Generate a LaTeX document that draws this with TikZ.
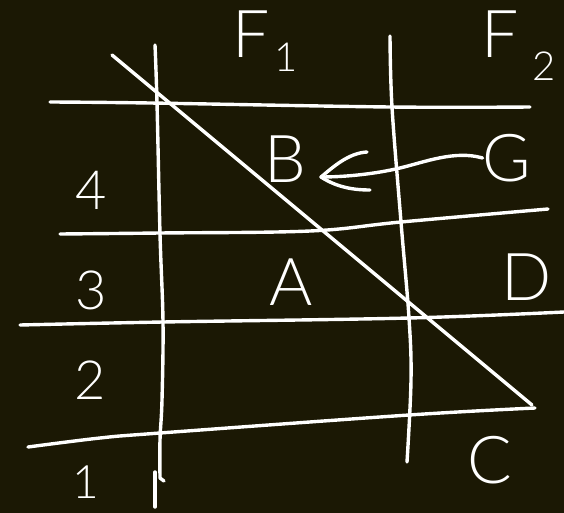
\documentclass[tikz,border=0pt]{standalone}
\usepackage{fontspec}
\setmainfont{Lato}[UprightFont=* Light]
\definecolor{bg}{RGB}{27,24,4}
\begin{document}
\begin{tikzpicture}[x=1pt,y=-1pt,
  stroke/.style={white, line width=3.4pt, line cap=round, line join=round},
  lbl/.style={white, inner sep=0pt, font=\fontsize{66}{66}\selectfont},
  num/.style={white, inner sep=0pt, font=\fontsize{54}{54}\selectfont},
  subs/.style={white, inner sep=0pt, font=\fontsize{40}{40}\selectfont}]
\fill[bg] (0,0) rectangle (564,513);
\useasboundingbox (0,0) rectangle (564,513);
% vertical lines
\draw[stroke] plot[smooth, tension=0.6] coordinates {(155,45) (157,103) (160,234) (163,322) (162,400) (160,440) (160,478)} -- (164,481);
\draw[stroke] plot[smooth, tension=0.6] coordinates {(390,36) (392,107) (401,222) (409,318) (411,380) (407,462)};
\draw[stroke] (155,472) -- (155,507);
% horizontal lines
\draw[stroke] plot[smooth, tension=0.6] coordinates {(50,102) (150,103) (390,107) (530,107)};
\draw[stroke] plot[smooth, tension=0.6] coordinates {(60,234) (160,233) (310,231) (401,222) (548,209)};
\draw[stroke] plot[smooth, tension=0.6] coordinates {(20,325) (163,322) (409,318) (564,312)};
\draw[stroke] plot[smooth, tension=0.6] coordinates {(28,447) (100,438) (160,433) (409,415) (535,408)};
% diagonal
\draw[stroke] (112,55) -- (532,405);
% labels
\node[lbl] (F1) at (251,34) {F};
\node[subs] (F1s) at (286,57) {1};
\node[lbl] (F2) at (500,34) {F};
\node[subs] (F2s) at (544,66) {2};
\node[num] (n4) at (91,190) {4};
\node[num] (n3) at (91,290) {3};
\node[num] (n2) at (90,380) {2};
\node[num, font=\fontsize{46}{46}\selectfont] (n1) at (86,482) {1};
\node[lbl] (B) at (285,159) {B};
\node[lbl] (A) at (291,282) {A};
\node[lbl] (D) at (527,277) {D};
\node[lbl] (C) at (490,460) {C};
\node[lbl] (G) at (507,158) {G};
% arrow G -> B
\coordinate (tip) at (321,177);
\draw[stroke] (G.west) .. controls (455,150) and (425,162) .. (400,168) .. controls (375,174) and (345,177) .. (tip);
\draw[stroke] (367,152) .. controls (348,153) and (332,168) .. (tip) .. controls (335,186) and (350,190) .. (370,190);
\end{tikzpicture}
\end{document}
